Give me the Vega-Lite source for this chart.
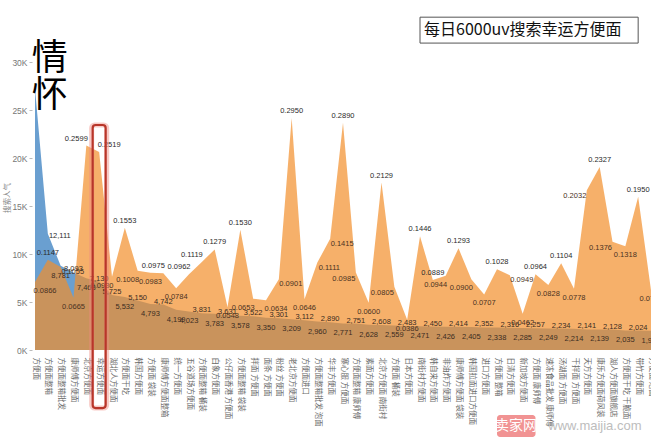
{
  "$schema": "https://vega.github.io/schema/vega-lite/v6.json",
  "width": 616,
  "height": 305,
  "autosize": {"type": "none"},
  "padding": {"left": 35, "top": 45, "right": 0, "bottom": 88},
  "background": "white",
  "config": {"view": {"stroke": null}, "font": "Liberation Sans"},
  "data": {"values": [
    {"kw": "方便面", "S": 27300, "R": 0.0866},
    {"kw": "方便面整箱", "S": 12111, "R": 0.1147},
    {"kw": "方便面整箱批发", "S": 8781, "R": 0.1055},
    {"kw": "康师傅方便面", "S": 8093, "R": 0.0665},
    {"kw": "北京方便面", "S": 7468, "R": 0.2599},
    {"kw": "幸运方便面", "S": 7130, "R": 0.2519},
    {"kw": "湖北人方便面", "S": 5725, "R": 0.0930},
    {"kw": "方便面干吃", "S": 5532, "R": 0.1553},
    {"kw": "韩国方便面", "S": 5150, "R": 0.1008},
    {"kw": "方便面 袋装", "S": 4793, "R": 0.0983},
    {"kw": "康师傅方便面整箱", "S": 4742, "R": 0.0975},
    {"kw": "统一方便面", "S": 4199, "R": 0.0784},
    {"kw": "五谷道场方便面", "S": 4023, "R": 0.0962},
    {"kw": "方便面整箱 桶装", "S": 3831, "R": 0.1119},
    {"kw": "白象方便面", "S": 3783, "R": 0.1279},
    {"kw": "公仔面香港 方便面", "S": 3631, "R": 0.0548},
    {"kw": "方便面整箱 袋装", "S": 3578, "R": 0.1530},
    {"kw": "拌面 方便面", "S": 3522, "R": 0.0653},
    {"kw": "面条 方便面", "S": 3350, "R": 0.0634},
    {"kw": "粉丝 方便面", "S": 3301, "R": 0.0901},
    {"kw": "老北京方便面", "S": 3209, "R": 0.2950},
    {"kw": "方便面进口", "S": 3112, "R": 0.0646},
    {"kw": "方便面整箱批发 泡面", "S": 2960, "R": 0.1111},
    {"kw": "华丰方便面", "S": 2890, "R": 0.1415},
    {"kw": "寨心服 方便面", "S": 2771, "R": 0.2890},
    {"kw": "方便面整箱 康师傅", "S": 2751, "R": 0.0985},
    {"kw": "素面方便面", "S": 2628, "R": 0.0600},
    {"kw": "北京方便面 南街村", "S": 2608, "R": 0.2129},
    {"kw": "方便面 桶装", "S": 2559, "R": 0.0805},
    {"kw": "日本方便面", "S": 2483, "R": 0.0386},
    {"kw": "南街村方便面", "S": 2471, "R": 0.1446},
    {"kw": "韩自来方便面", "S": 2450, "R": 0.0889},
    {"kw": "非油炸方便面", "S": 2426, "R": 0.0944},
    {"kw": "康师傅方便面 袋装", "S": 2414, "R": 0.1293},
    {"kw": "韩国拉面进口方便面", "S": 2405, "R": 0.0900},
    {"kw": "进口方便面", "S": 2352, "R": 0.0707},
    {"kw": "方便面 整箱", "S": 2338, "R": 0.1028},
    {"kw": "日清方便面", "S": 2316, "R": 0.0949},
    {"kw": "新加坡方便面", "S": 2285, "R": 0.0462},
    {"kw": "方便面 康师傅", "S": 2257, "R": 0.0964},
    {"kw": "速冻食品批发 康师傅", "S": 2249, "R": 0.0828},
    {"kw": "汤湖面 方便面", "S": 2234, "R": 0.1104},
    {"kw": "干拌面 方便面", "S": 2214, "R": 0.0778},
    {"kw": "天方方便面", "S": 2141, "R": 0.2032},
    {"kw": "康乐方便面荷风装", "S": 2139, "R": 0.2327},
    {"kw": "湖人方便面旗舰店", "S": 2128, "R": 0.1376},
    {"kw": "方便面干吃 干脆面", "S": 2035, "R": 0.1318},
    {"kw": "带竹方便面", "S": 2024, "R": 0.1950},
    {"kw": "方便面 泡面", "S": 1998, "R": 0.0760}
  ]},
  "encoding": {
    "x": {
      "field": "kw", "type": "ordinal", "sort": null,
      "scale": {"type": "point", "padding": 0, "domain": ["方便面","方便面整箱","方便面整箱批发","康师傅方便面","北京方便面","幸运方便面","湖北人方便面","方便面干吃","韩国方便面","方便面 袋装","康师傅方便面整箱","统一方便面","五谷道场方便面","方便面整箱 桶装","白象方便面","公仔面香港 方便面","方便面整箱 袋装","拌面 方便面","面条 方便面","粉丝 方便面","老北京方便面","方便面进口","方便面整箱批发 泡面","华丰方便面","寨心服 方便面","方便面整箱 康师傅","素面方便面","北京方便面 南街村","方便面 桶装","日本方便面","南街村方便面","韩自来方便面","非油炸方便面","康师傅方便面 袋装","韩国拉面进口方便面","进口方便面","方便面 整箱","日清方便面","新加坡方便面","方便面 康师傅","速冻食品批发 康师傅","汤湖面 方便面","干拌面 方便面","天方方便面","康乐方便面荷风装","湖人方便面旗舰店","方便面干吃 干脆面","带竹方便面","方便面 泡面"]},
      "axis": {"title": null, "labelAngle": 90, "labelFontSize": 7.5, "labelFont": "Noto Sans CJK SC", "labelColor": "#6a6a6a", "domain": false, "ticks": false, "labelPadding": 7, "labelLimit": 300, "labelOverlap": false}
    }
  },
  "layer": [
    {
      "mark": {"type": "area", "color": "#6A9FD0", "interpolate": "linear"},
      "encoding": {
        "y": {"field": "S", "type": "quantitative", "scale": {"domain": [0, 31800], "nice": false},
          "axis": {"orient": "left", "values": [0, 5000, 10000, 15000, 20000, 25000, 30000], "labelExpr": "datum.value / 1000 + 'K'", "title": "搜索人气", "grid": false, "domain": false, "tickSize": 3, "tickColor": "#bbb", "labelFontSize": 8.5, "labelColor": "#777", "labelFont": "Liberation Sans", "labelPadding": 2, "offset": 3, "titleFontSize": 7.5, "titleColor": "#888", "titleFont": "Noto Sans CJK SC", "titleFontWeight": "normal", "titlePadding": 0}}
      }
    },
    {
      "mark": {"type": "area", "color": "#F28E2B", "opacity": 0.7, "interpolate": "linear"},
      "encoding": {
        "y": {"field": "R", "type": "quantitative", "scale": {"domain": [0, 0.3878], "nice": false}, "axis": null}
      }
    },
    {
      "transform": [{"window": [{"op": "row_number", "as": "rn"}]}, {"filter": "indexof([3,5,6,8,10,13,15,17,19,21,23,25,27,29,31,33,35,37,39,41,43,45,47], datum.rn - 1) >= 0"}],
      "mark": {"type": "text", "dy": -3, "fontSize": 7.5, "fill": "#3a2c22", "font": "Liberation Sans"},
      "encoding": {
        "y": {"field": "S", "type": "quantitative", "scale": {"domain": [0, 31800], "nice": false}, "axis": null},
        "text": {"field": "S", "type": "quantitative", "format": ","}
      }
    },
    {
      "transform": [{"window": [{"op": "row_number", "as": "rn"}]}, {"filter": "indexof([2,4,7,9,11,12,14,16,18,20,22,24,26,28,30,32,34,36,38,40,42,44,46,48], datum.rn - 1) >= 0"}],
      "mark": {"type": "text", "dy": 10, "fontSize": 7.5, "fill": "#3a2c22", "font": "Liberation Sans"},
      "encoding": {
        "y": {"field": "S", "type": "quantitative", "scale": {"domain": [0, 31800], "nice": false}, "axis": null},
        "text": {"field": "S", "type": "quantitative", "format": ","}
      }
    },
    {
      "transform": [{"window": [{"op": "row_number", "as": "rn"}]}, {"filter": "datum.rn - 1 == 1"}],
      "mark": {"type": "text", "dx": 12, "dy": 2, "fontSize": 7.5, "fill": "#2a2a2a", "font": "Liberation Sans"},
      "encoding": {
        "y": {"field": "S", "type": "quantitative", "scale": {"domain": [0, 31800], "nice": false}, "axis": null},
        "text": {"field": "S", "type": "quantitative", "format": ","}
      }
    },
    {
      "transform": [{"window": [{"op": "row_number", "as": "rn"}]}, {"filter": "indexof([1,7,14,16,20,24,27,30,31,33,36,39,41,44,47], datum.rn - 1) >= 0"}],
      "mark": {"type": "text", "dy": -7, "fontSize": 7.5, "fill": "#2a2a2a", "font": "Liberation Sans"},
      "encoding": {
        "y": {"field": "R", "type": "quantitative", "scale": {"domain": [0, 0.3878], "nice": false}, "axis": null},
        "text": {"field": "R", "type": "quantitative", "format": ".4f"}
      }
    },
    {
      "transform": [{"window": [{"op": "row_number", "as": "rn"}]}, {"filter": "indexof([4,10,12,13], datum.rn - 1) >= 0"}],
      "mark": {"type": "text", "dx": -10, "dy": -7, "fontSize": 7.5, "fill": "#2a2a2a", "font": "Liberation Sans"},
      "encoding": {
        "y": {"field": "R", "type": "quantitative", "scale": {"domain": [0, 0.3878], "nice": false}, "axis": null},
        "text": {"field": "R", "type": "quantitative", "format": ".4f"}
      }
    },
    {
      "transform": [{"window": [{"op": "row_number", "as": "rn"}]}, {"filter": "datum.rn - 1 == 5"}],
      "mark": {"type": "text", "dx": 10, "dy": -7, "fontSize": 7.5, "fill": "#2a2a2a", "font": "Liberation Sans"},
      "encoding": {
        "y": {"field": "R", "type": "quantitative", "scale": {"domain": [0, 0.3878], "nice": false}, "axis": null},
        "text": {"field": "R", "type": "quantitative", "format": ".4f"}
      }
    },
    {
      "transform": [{"window": [{"op": "row_number", "as": "rn"}]}, {"filter": "indexof([3,9,11,15,21,26,29,35,38,40,42,46,48], datum.rn - 1) >= 0"}],
      "mark": {"type": "text", "dy": 9, "fontSize": 7.5, "fill": "#4a3222", "font": "Liberation Sans"},
      "encoding": {
        "y": {"field": "R", "type": "quantitative", "scale": {"domain": [0, 0.3878], "nice": false}, "axis": null},
        "text": {"field": "R", "type": "quantitative", "format": ".4f"}
      }
    },
    {
      "transform": [{"window": [{"op": "row_number", "as": "rn"}]}, {"filter": "indexof([6,8,17,32,34], datum.rn - 1) >= 0"}],
      "mark": {"type": "text", "dx": -10, "dy": 9, "fontSize": 7.5, "fill": "#4a3222", "font": "Liberation Sans"},
      "encoding": {
        "y": {"field": "R", "type": "quantitative", "scale": {"domain": [0, 0.3878], "nice": false}, "axis": null},
        "text": {"field": "R", "type": "quantitative", "format": ".4f"}
      }
    },
    {
      "transform": [{"window": [{"op": "row_number", "as": "rn"}]}, {"filter": "indexof([0,18], datum.rn - 1) >= 0"}],
      "mark": {"type": "text", "dx": 10, "dy": 9, "fontSize": 7.5, "fill": "#4a3222", "font": "Liberation Sans"},
      "encoding": {
        "y": {"field": "R", "type": "quantitative", "scale": {"domain": [0, 0.3878], "nice": false}, "axis": null},
        "text": {"field": "R", "type": "quantitative", "format": ".4f"}
      }
    },
    {
      "transform": [{"window": [{"op": "row_number", "as": "rn"}]}, {"filter": "indexof([2,19,22,23,37], datum.rn - 1) >= 0"}],
      "mark": {"type": "text", "dx": 12, "dy": 5, "fontSize": 7.5, "fill": "#4a3222", "font": "Liberation Sans"},
      "encoding": {
        "y": {"field": "R", "type": "quantitative", "scale": {"domain": [0, 0.3878], "nice": false}, "axis": null},
        "text": {"field": "R", "type": "quantitative", "format": ".4f"}
      }
    },
    {
      "transform": [{"window": [{"op": "row_number", "as": "rn"}]}, {"filter": "indexof([25,28,43,45], datum.rn - 1) >= 0"}],
      "mark": {"type": "text", "dx": -12, "dy": 6, "fontSize": 7.5, "fill": "#4a3222", "font": "Liberation Sans"},
      "encoding": {
        "y": {"field": "R", "type": "quantitative", "scale": {"domain": [0, 0.3878], "nice": false}, "axis": null},
        "text": {"field": "R", "type": "quantitative", "format": ".4f"}
      }
    },
    {
      "data": {"values": [{}]},
      "mark": {"type": "bar", "width": 15, "fillOpacity": 0, "stroke": "#f08a80", "strokeWidth": 5, "strokeOpacity": 0.45, "cornerRadius": 3},
      "encoding": {
        "x": {"datum": "幸运方便面", "type": "ordinal"},
        "y": {"datum": 23460, "type": "quantitative", "scale": {"domain": [0, 31800], "nice": false}, "axis": null},
        "y2": {"datum": -6050}
      }
    },
    {
      "data": {"values": [{}]},
      "mark": {"type": "bar", "width": 13, "fillOpacity": 0, "stroke": "#b8362a", "strokeWidth": 2.2, "cornerRadius": 3},
      "encoding": {
        "x": {"datum": "幸运方便面", "type": "ordinal"},
        "y": {"datum": 23460, "type": "quantitative", "scale": {"domain": [0, 31800], "nice": false}, "axis": null},
        "y2": {"datum": -6050}
      }
    },
    {
      "data": {"values": [{}]},
      "mark": {"type": "rect", "fill": "white", "stroke": "#555", "strokeWidth": 1},
      "encoding": {
        "x": {"datum": "南街村方便面", "type": "ordinal"},
        "x2": {"datum": "带竹方便面"},
        "y": {"datum": 32000, "type": "quantitative", "scale": {"domain": [0, 31800], "nice": false}, "axis": null},
        "y2": {"datum": 34700}
      }
    },
    {
      "data": {"values": [{}]},
      "mark": {"type": "text", "text": "每日6000uv搜索幸运方便面", "align": "left", "baseline": "middle", "dx": 4, "fontSize": 16, "font": "Noto Sans CJK SC", "fill": "#111"},
      "encoding": {
        "x": {"datum": "南街村方便面", "type": "ordinal"},
        "y": {"datum": 33350, "type": "quantitative", "scale": {"domain": [0, 31800], "nice": false}, "axis": null}
      }
    },
    {
      "data": {"values": [{}]},
      "mark": {"type": "text", "text": ["情", "怀"], "align": "center", "baseline": "top", "dx": 2, "fontSize": 36, "lineHeight": 37, "font": "Noto Sans CJK SC", "fill": "#000"},
      "encoding": {
        "x": {"datum": "方便面整箱", "type": "ordinal"},
        "y": {"datum": 32100, "type": "quantitative", "scale": {"domain": [0, 31800], "nice": false}, "axis": null}
      }
    },
    {
      "data": {"values": [{}]},
      "mark": {"type": "rect", "fill": "#ef8080", "opacity": 0.85, "cornerRadius": 3},
      "encoding": {
        "x": {"datum": "方便面 整箱", "type": "ordinal"},
        "x2": {"datum": "方便面 康师傅"},
        "y": {"datum": -6780, "type": "quantitative", "scale": {"domain": [0, 31800], "nice": false}, "axis": null},
        "y2": {"datum": -9070}
      }
    },
    {
      "data": {"values": [{}]},
      "mark": {"type": "text", "text": "卖家网", "align": "center", "baseline": "middle", "dx": 19, "fontSize": 14, "font": "Noto Sans CJK SC", "fill": "white"},
      "encoding": {
        "x": {"datum": "方便面 整箱", "type": "ordinal"},
        "y": {"datum": -7930, "type": "quantitative", "scale": {"domain": [0, 31800], "nice": false}, "axis": null}
      }
    },
    {
      "data": {"values": [{}]},
      "mark": {"type": "text", "text": "www.maijia.com", "align": "left", "baseline": "middle", "fontSize": 13, "font": "Liberation Sans", "fill": "#bdbdbd"},
      "encoding": {
        "x": {"datum": "速冻食品批发 康师傅", "type": "ordinal"},
        "y": {"datum": -7930, "type": "quantitative", "scale": {"domain": [0, 31800], "nice": false}, "axis": null}
      }
    }
  ],
  "resolve": {"scale": {"y": "independent"}, "axis": {"y": "independent"}}
}
